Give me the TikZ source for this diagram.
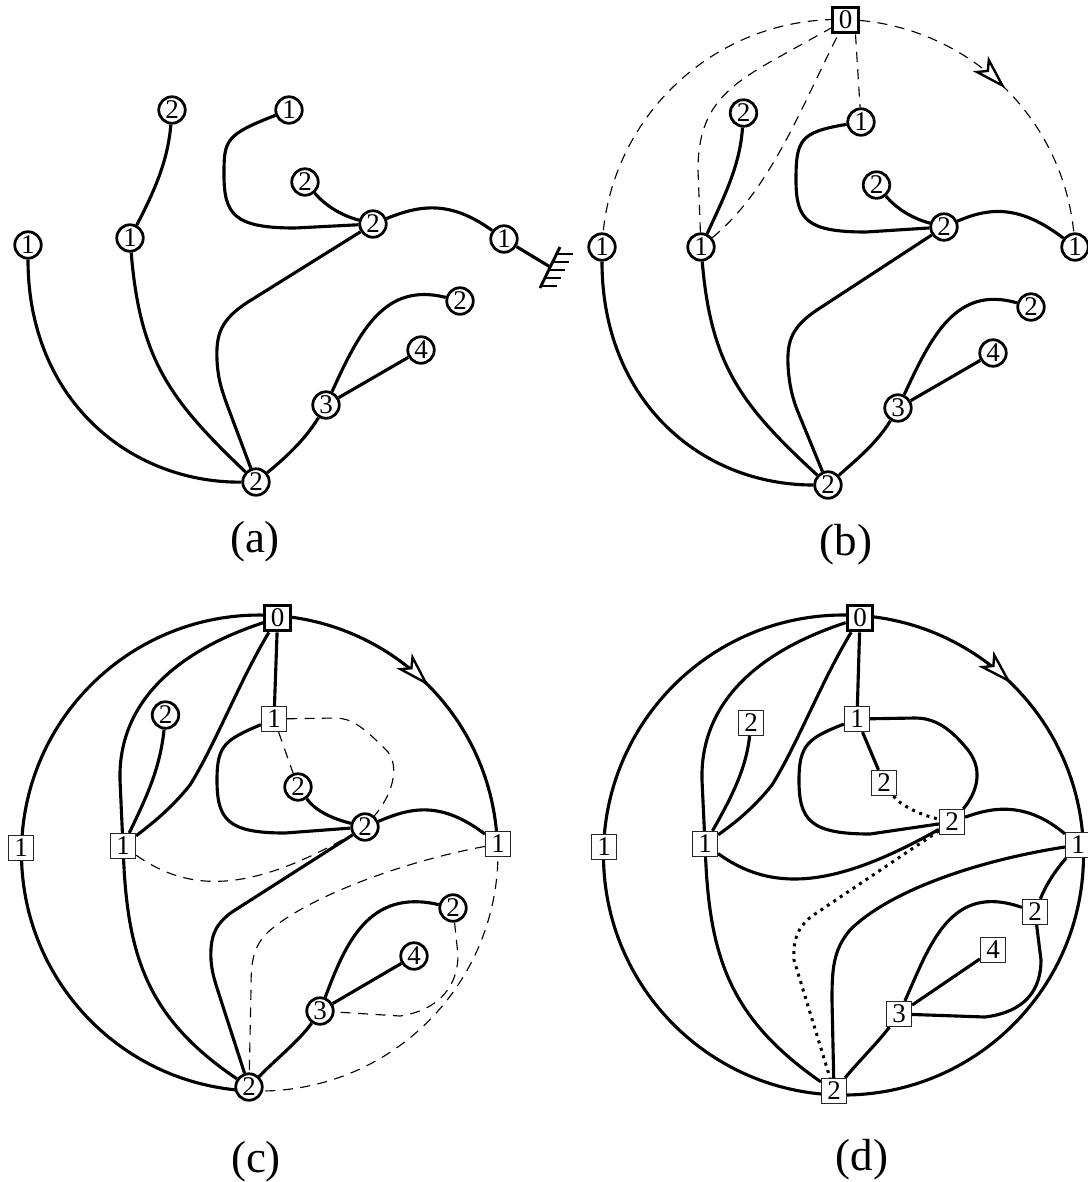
\documentclass[tikz,border=0pt]{standalone}
\usepackage{fontspec}
\setmainfont{Liberation Serif}
\usetikzlibrary{arrows.meta,decorations.markings,backgrounds}
\begin{document}
\begin{tikzpicture}[x=0.4pt,y=-0.4pt,
  every node/.style={font=\fontsize{10.8}{12}\selectfont, inner sep=0pt},
  cn/.style={circle, draw, line width=1.1pt, fill=white, minimum size=10.6pt},
  sq/.style={rectangle, draw=black!85, line width=0.6pt, fill=white, minimum size=9.9pt},
  sqz/.style={rectangle, draw, line width=1.25pt, fill=white, minimum size=10.2pt},
  ed/.style={line width=1.25pt},
  dsh/.style={line width=0.45pt, dash pattern=on 4pt off 3pt},
  dotline/.style={line width=1.2pt, dash pattern=on 1.2pt off 1.9pt},
  lab/.style={font=\fontsize{18}{20}\selectfont},
  dirarrow/.style={decoration={markings, mark=at position #1 with {\arrow{Stealth[length=14pt,width=8.5pt,inset=3.5pt,fill=white,line width=0.95pt]}}}, postaction={solid,decorate}}
]
\useasboundingbox (0,0) rectangle (1088,1182);

% ---------------- panel (a) nodes
\node[cn] (a1) at (28,245) {1};
\node[cn] (a2) at (130,238) {1};
\node[cn] (a3) at (172,110) {2};
\node[cn] (a4) at (289,110) {1};
\node[cn] (a5) at (305,182) {2};
\node[cn] (a6) at (373,224) {2};
\node[cn] (a7) at (504,239) {1};
\node[cn] (a8) at (460,301) {2};
\node[cn] (a9) at (421,350) {4};
\node[cn] (a10) at (326,405) {3};
\node[cn] (a11) at (256,482) {2};
\coordinate (g) at (550.2,267);

% ---------------- panel (b) nodes
\node[sqz] (b0) at (845.5,20) {0};
\node[cn] (b1) at (602,247) {1};
\node[cn] (b2) at (701,247) {1};
\node[cn] (b3) at (743.5,113) {2};
\node[cn] (b4) at (861,122) {1};
\node[cn] (b5) at (876.5,185) {2};
\node[cn] (b6) at (944,227) {2};
\node[cn] (b7) at (1075,247) {1};
\node[cn] (b8) at (1031,307) {2};
\node[cn] (b9) at (993,353) {4};
\node[cn] (b10) at (898,408) {3};
\node[cn] (b11) at (828,485) {2};

% ---------------- panel (c) nodes
\node[sqz] (c0) at (277.6,618) {0};
\node[sq] (cL) at (21,848) {1};
\node[sq] (c2) at (123,846) {1};
\node[cn] (c3) at (165.5,715) {2};
\node[sq] (c4) at (274,719) {1};
\node[cn] (c5) at (298,787) {2};
\node[cn] (c6) at (365,827) {2};
\node[sq] (c7) at (498,844) {1};
\node[cn] (c8) at (453,908) {2};
\node[cn] (c9) at (414,956) {4};
\node[cn] (c10) at (320,1011) {3};
\node[cn] (c11) at (249,1087) {2};

% ---------------- panel (d) nodes
\node[sqz] (d0) at (860,618) {0};
\node[sq] (dL) at (604,847) {1};
\node[sq] (d2) at (705,844) {1};
\node[sq] (d3) at (751,723) {2};
\node[sq] (d4) at (857,719) {1};
\node[sq] (d5) at (884,783) {2};
\node[sq] (d6) at (952,822) {2};
\node[sq] (d7) at (1078,845) {1};
\node[sq] (d8) at (1035,912) {2};
\node[sq] (d9) at (993,950) {4};
\node[sq] (d10) at (899,1014) {3};
\node[sq] (d11) at (834,1091) {2};

% ---------------- labels
\node[lab] (la) at (255,542) {(a)};
\node[lab] (lb) at (846,545) {(b)};
\node[lab] (lc) at (256,1162) {(c)};
\node[lab] (ld) at (862,1160) {(d)};

% ground symbol
\draw[line width=1.15pt] (540,288) -- (560,247);
\foreach \yy in {254,262,270,278,286}
  \draw[line width=0.5pt] ({540+(288-\yy)*20/41},\yy) -- ++(16,0);

\begin{scope}[on background layer]
\fill[white] (0,0) rectangle (1088,1182);

% ---------------- panel (a) edges
\draw[ed] (a1) .. controls (28,400) and (130,483) .. (a11);
\draw[ed] (a2) .. controls (140,360) and (170,400) .. (a11);
\draw[ed] (a2) .. controls (155,190) and (168,160) .. (a3);
\draw[ed] (a4) .. controls (225,135) and (224,140) .. (224,175) .. controls (224,215) and (235,228) .. (295,228) -- (a6);
\draw[ed] (a5) .. controls (325,205) and (340,215) .. (a6);
\draw[ed] (a6) .. controls (420,205) and (450,200) .. (a7);
\draw[ed] (a6) -- (248,302) .. controls (220,320) and (216,335) .. (217,360) .. controls (218,380) and (222,390) .. (226,402) -- (a11);
\draw[ed] (a11) .. controls (285,458) and (305,440) .. (a10);
\draw[ed] (a10) .. controls (360,330) and (385,282) .. (a8);
\draw[ed] (a10) -- (a9);
\draw[ed] (a7) -- (g);

% ---------------- panel (b) edges
\draw[ed] (b1) .. controls (602,400) and (700,485) .. (b11);
\draw[ed] (b2) .. controls (711,365) and (741,405) .. (b11);
\draw[ed] (b2) .. controls (725,195) and (740,165) .. (b3);
\draw[ed] (b4) .. controls (800,132) and (796,140) .. (796,180) .. controls (796,220) and (807,232) .. (866,232) -- (b6);
\draw[ed] (b5) .. controls (896,208) and (911,218) .. (b6);
\draw[ed] (b6) .. controls (990,207) and (1020,205) .. (b7);
\draw[ed] (b6) -- (820,308) .. controls (792,326) and (787,340) .. (788,365) .. controls (789,385) and (793,400) .. (798,412) -- (b11);
\draw[ed] (b11) .. controls (856,460) and (877,443) .. (b10);
\draw[ed] (b10) .. controls (931,337) and (956,285) .. (b8);
\draw[ed] (b10) -- (b9);
\draw[dsh, dirarrow=0.755] (602.1,247.7) arc[start angle=182, end angle=358, radius=236.5];
\draw[dsh] (b2) -- (698,170) .. controls (698,110) and (725,88) .. (770,62) -- (b0);
\draw[dsh] (b2) .. controls (770,190) and (800,110) .. (b0);
\draw[dsh] ([xshift=4pt]b0.south) -- (b4);

% ---------------- panel (c) edges
\draw[ed, dirarrow=0.84] (249.1,1090.8) arc[start angle=92.5, end angle=357.8, radius=238];
\draw[dsh] (497.8,843.9) arc[start angle=-2.2, end angle=92.5, radius=238];
\draw[ed] (c0) .. controls (180,650) and (118,700) .. (120,780) -- (c2);
\draw[ed] (c0) .. controls (240,680) and (215,745) .. (190,785) .. controls (170,810) and (150,825) .. (c2);
\draw[ed] (c3) .. controls (160,770) and (145,800) .. (c2);
\draw[ed] (c0) -- (c4);
\draw[ed] (c4) .. controls (225,740) and (217,745) .. (217,780) .. controls (217,820) and (228,833) .. (285,833) -- (c6);
\draw[ed] (c5) .. controls (315,810) and (330,818) .. (c6);
\draw[ed] (c6) .. controls (410,808) and (440,800) .. (c7);
\draw[ed] (c6) -- (232,912) .. controls (214,925) and (210,938) .. (211,960) .. controls (212,972) and (214,978) .. (217,988) -- (c11);
\draw[ed] (c11) .. controls (275,1060) and (300,1040) .. (c10);
\draw[ed] (c10) .. controls (345,945) and (368,888) .. (c8);
\draw[ed] (c10) -- (c9);
\draw[ed] (c2) .. controls (128,960) and (150,1020) .. (c11);
\draw[dsh] (c4) -- (335,718) .. controls (350,718) and (362,725) .. (388,752) .. controls (400,768) and (392,795) .. (c6);
\draw[dsh] (c4) -- (c5);
\draw[dsh] (c2) .. controls (190,893) and (250,893) .. (c6);
\draw[dsh] (c7) .. controls (400,862) and (300,900) .. (265,935) .. controls (252,950) and (251,965) .. (251,990) -- (c11);
\draw[dsh] (c8) -- (458,955) .. controls (458,985) and (440,1010) .. (400,1016) -- (c10);

% ---------------- panel (d) edges
\draw[ed, dirarrow=0.123] (843.5,615) arc[start angle=270, end angle=630, radius=240];
\draw[ed] (d0) .. controls (762,650) and (700,700) .. (702,780) -- (d2);
\draw[ed] (d0) .. controls (822,680) and (797,745) .. (772,785) .. controls (752,810) and (732,825) .. (d2);
\draw[ed] (d3) .. controls (746,770) and (730,800) .. (d2);
\draw[ed] (d0) -- (d4);
\draw[ed] (d4) .. controls (808,738) and (799,745) .. (799,780) .. controls (799,820) and (810,834) .. (870,834) -- (d6);
\draw[ed] (d4) -- (915,718) .. controls (935,718) and (950,728) .. (968,750) .. controls (985,772) and (975,795) .. (d6);
\draw[ed] (d4) -- (d5);
\draw[dotline] (d5) .. controls (900,805) and (920,815) .. (d6);
\draw[ed] (d6) .. controls (990,808) and (1025,800) .. (d7);
\draw[ed] (d2) .. controls (775,895) and (840,885) .. (d6);
\draw[dotline] (d6) -- (812,916) .. controls (797,928) and (793,940) .. (794,960) -- (d11);
\draw[ed] (d7) .. controls (980,860) and (890,890) .. (850,930) .. controls (833,950) and (832,970) .. (832,1000) -- (d11);
\draw[ed] (d7) .. controls (1060,865) and (1048,880) .. (d8);
\draw[ed] (d8) -- (1041,960) .. controls (1041,990) and (1025,1012) .. (985,1017) -- (d10);
\draw[ed] (d10) .. controls (930,945) and (950,882) .. (d8);
\draw[ed] (d10) -- (d9);
\draw[ed] (d11) .. controls (860,1060) and (880,1040) .. (d10);
\draw[ed] (d2) .. controls (710,960) and (732,1020) .. (d11);
\end{scope}
\end{tikzpicture}
\end{document}
